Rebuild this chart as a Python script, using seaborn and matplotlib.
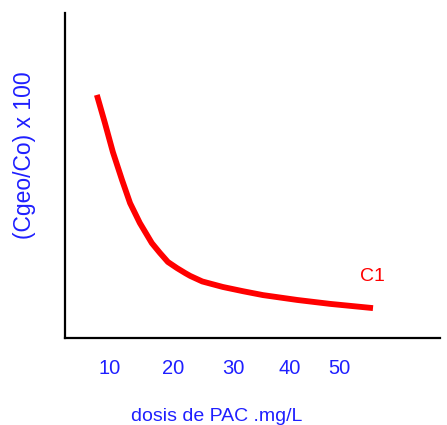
import matplotlib
matplotlib.use("Agg")
import matplotlib.pyplot as plt
import seaborn as sns
import pandas as pd

# curve C1 (dose mg/L, Cgeo/Co x 100)
dose = [7.7, 9.1, 10.5, 12.1, 13.5, 15.2, 17.3, 18.7, 20.1, 21.7, 23.1, 24.0, 26.1,
        28.0, 29.7, 33.2, 36.7, 42.7, 48.4, 55.9]
ratio = [74.8, 66.2, 57.2, 48.6, 41.5, 35.4, 29.2, 26.2, 23.4, 21.5, 20.0, 19.1, 17.4,
         16.5, 15.7, 14.4, 13.2, 11.7, 10.5, 9.2]

# tick labels sit a little unevenly in the original sketch
tick_pos = [10, 21, 31.6, 41.4, 50]
tick_labels = ["10", "20", "30", "40", "50"]
minor_pos = [10.7, 24.15, 34.6]

df = pd.DataFrame({"dose": dose, "ratio": ratio})

sns.set_style("white")
plt.rcParams['font.family'] = ['Liberation Sans', 'DejaVu Sans']

fig = plt.figure(figsize=(4.47, 4.25), dpi=100)
ax = fig.add_axes([0.1454, 0.2047, 0.839, 0.7647])

sns.lineplot(data=df, x="dose", y="ratio", color="#ff0000", linewidth=4.2, ax=ax,
             solid_joinstyle="round", solid_capstyle="butt")

ax.set_xlim(2.14, 67.6)
ax.set_ylim(0, 100)

for side in ["top", "right"]:
    ax.spines[side].set_visible(False)
for side in ["left", "bottom"]:
    ax.spines[side].set_color("black")
    ax.spines[side].set_linewidth(1.6)

ax.set_xticks(tick_pos)
ax.set_xticklabels(tick_labels)
ax.set_xticks(minor_pos, minor=True)
ax.tick_params(axis="x", which="major", length=0, pad=15, labelsize=14.5, labelcolor="#1f1fff")
ax.tick_params(axis="x", which="minor", length=3, width=1.5, color="black", direction="out")
ax.set_yticks([89.5])
ax.set_yticklabels([])
ax.tick_params(axis="y", length=3, width=2, color="black", direction="in")

ax.set_xlabel("")
ax.set_ylabel("")
ax.text(0.405, -0.243, "dosis de PAC .mg/L", transform=ax.transAxes, ha="center", va="center",
        fontsize=14, color="#1f1fff")
ax.text(-0.109, 0.563, "(Cgeo/Co) x 100", transform=ax.transAxes, ha="center", va="center",
        rotation=90, fontsize=16.5, color="#1f1fff")
ax.text(55.8, 18.8, "C1", ha="center", va="center", fontsize=14, color="#ff0000")

fig.savefig("out.png", dpi=100)
